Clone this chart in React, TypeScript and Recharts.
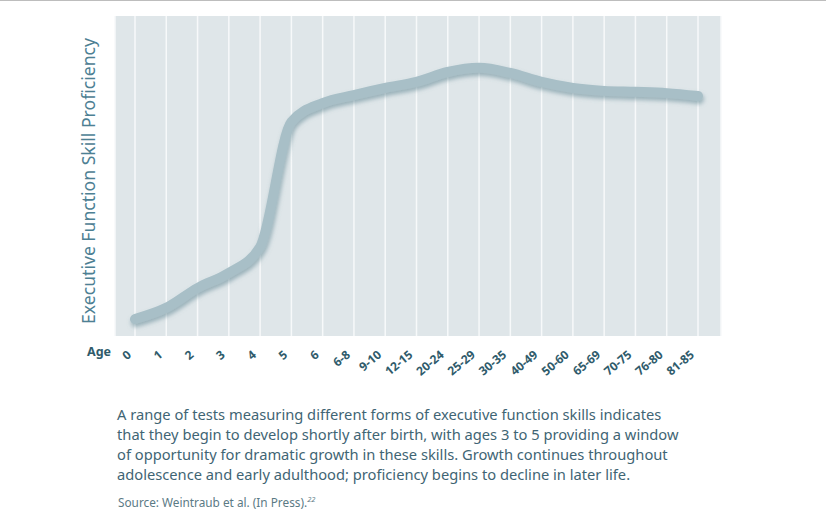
import React from 'react';
import { LineChart, Line, XAxis, YAxis, CartesianGrid } from 'recharts';

// age groups along the bottom
const ageLabels = ['0', '1', '2', '3', '4', '5', '6', '6-8', '9-10', '12-15', '20-24', '25-29', '30-35', '40-49', '50-60', '65-69', '70-75', '76-80', '81-85'];
// proficiency (0 = bottom of the plot, 100 = top)
const proficiency = [5.3, 8.8, 15, 19.7, 27.8, 66.9, 72.8, 75.3, 77.5, 79.4, 82.5, 83.8, 82.2, 79.4, 77.5, 76.6, 76.3, 75.9, 75];

const captionLines = [
  'A range of tests measuring different forms of executive function skills indicates',
  'that they begin to develop shortly after birth, with ages 3 to 5 providing a window',
  'of opportunity for dramatic growth in these skills. Growth continues throughout',
  'adolescence and early adulthood; proficiency begins to decline in later life.',
];

const data = ageLabels.map((age, i) => ({ age, value: proficiency[i] }));

const FONT = '"Noto Sans", "Open Sans", sans-serif';

const AgeTick = (props: any) => {
  const { x, y, payload } = props;
  const ax = x - 3;
  const ay = y + 20;
  return (
    <text
      x={ax}
      y={ay}
      transform={`rotate(-40, ${ax}, ${ay})`}
      textAnchor="end"
      fontSize={12}
      fontWeight={700}
      fontFamily={FONT}
      fill="#2f5b6b"
    >
      {payload.value}
    </text>
  );
};

export default function App() {
  return (
    <div style={{ position: 'absolute', left: 0, top: 0, width: 826, height: 517, background: '#fff', overflow: 'hidden', fontFamily: FONT }}>
      <div style={{ position: 'absolute', left: 0, top: 0, width: 826, height: 1, background: '#bdbdbd' }} />
      <LineChart width={826} height={400} data={data} margin={{ top: 16, right: 105, bottom: 0, left: 115 }}>
        <defs>
          <filter id="lineShadow" x="-10%" y="-10%" width="120%" height="130%">
            <feDropShadow dx="1" dy="3" stdDeviation="2" floodColor="#5f8592" floodOpacity="0.55" />
          </filter>
        </defs>
        <CartesianGrid horizontal={false} stroke="#f7f9fa" strokeWidth={1.5} fill="#dfe6e9" />
        <XAxis
          dataKey="age"
          height={64}
          axisLine={false}
          tickLine={false}
          tickSize={0}
          tickMargin={0}
          interval={0}
          padding={{ left: 20, right: 23 }}
          tick={<AgeTick />}
        />
        <YAxis hide domain={[0, 100]} />
        <Line
          type="monotone"
          dataKey="value"
          stroke="#a8bfc7"
          strokeWidth={10}
          strokeLinecap="round"
          dot={false}
          activeDot={false}
          filter="url(#lineShadow)"
          isAnimationActive={false}
        />
      </LineChart>
      <div
        style={{
          position: 'absolute',
          left: 88,
          top: 181,
          transform: 'translate(-50%, -50%) rotate(-90deg)',
          whiteSpace: 'nowrap',
          fontSize: 17.6,
          color: '#4d8093',
        }}
      >
        Executive Function Skill Proficiency
      </div>
      <div style={{ position: 'absolute', left: 87, top: 343, fontSize: 12.5, fontWeight: 700, color: '#2f5b6b' }}>Age</div>
      <div style={{ position: 'absolute', left: 117, top: 404, fontSize: 14.7, lineHeight: '20px', color: '#3f6574', whiteSpace: 'nowrap' }}>
        {captionLines.map((l) => (
          <div key={l}>{l}</div>
        ))}
      </div>
      <div style={{ position: 'absolute', left: 118, top: 494, fontSize: 11.8, color: '#5b7a85', whiteSpace: 'nowrap' }}>
        Source: Weintraub et al. (In Press).<sup style={{ fontSize: 7.5, fontStyle: 'italic' }}>22</sup>
      </div>
    </div>
  );
}
